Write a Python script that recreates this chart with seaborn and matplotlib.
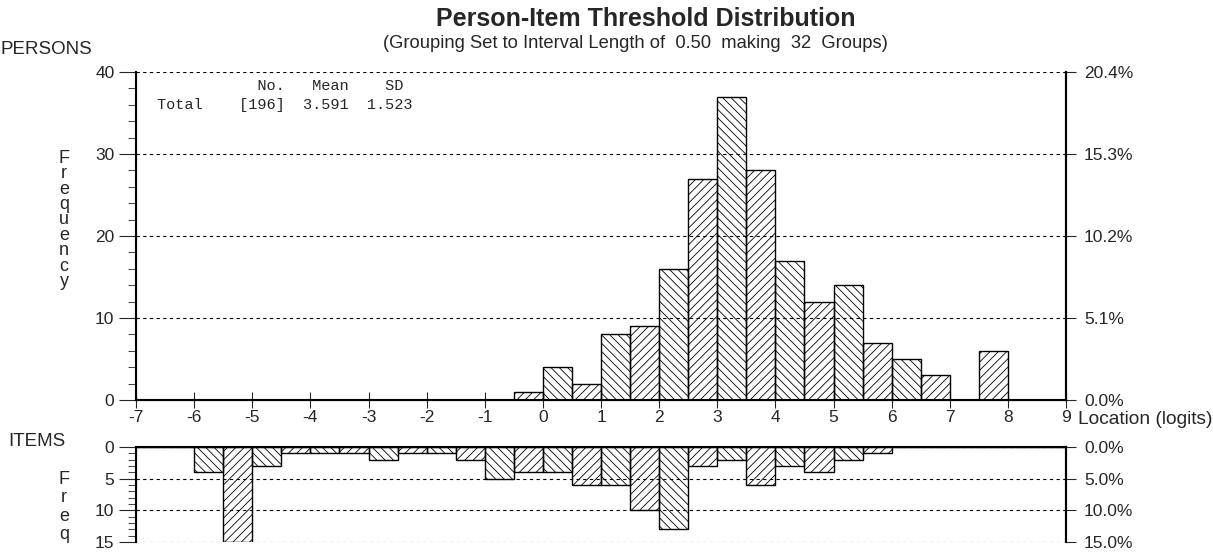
import numpy as np
import pandas as pd
import matplotlib.pyplot as plt
import seaborn as sns
from matplotlib.ticker import MultipleLocator

# person locations (bin centres, 0.5 logit groups) and counts
person_loc = [-0.25, 0.25, 0.75, 1.25, 1.75, 2.25, 2.75, 3.25, 3.75, 4.25,
              4.75, 5.25, 5.75, 6.25, 6.75, 7.75]
person_n = [1, 4, 2, 8, 9, 16, 27, 37, 28, 17, 12, 14, 7, 5, 3, 6]

# item threshold locations and counts
item_loc = [-5.75, -5.25, -4.75, -4.25, -3.75, -3.25, -2.75, -2.25, -1.75,
            -1.25, -0.75, -0.25, 0.25, 0.75, 1.25, 1.75, 2.25, 2.75, 3.25,
            3.75, 4.25, 4.75, 5.25, 5.75]
item_n = [4, 15, 3, 1, 1, 1, 2, 1, 1, 2, 5, 4, 4, 6, 6, 10, 13, 3, 2, 6,
          3, 4, 2, 1]

x_ticks = list(range(-7, 10))
person_yticks = [0, 10, 20, 30, 40]
item_yticks = [0, 5, 10, 15]
stats_head = "           No.   Mean    SD"
stats_row = "Total    [196]  3.591  1.523"

persons = pd.DataFrame({"loc": person_loc, "n": person_n})
items = pd.DataFrame({"loc": item_loc, "n": item_n})

sns.set_style("ticks", {"axes.edgecolor": "black"})
plt.rcParams['font.family'] = ['Liberation Sans', 'DejaVu Sans']
plt.rcParams['hatch.linewidth'] = 0.6

W, H = 1213, 554
fig = plt.figure(figsize=(W / 100, H / 100), dpi=100)
ax = fig.add_axes([136 / W, 154 / H, 930 / W, 328 / H])
axb = fig.add_axes([136 / W, 12 / H, 930 / W, 95 / H])


def style_bars(a):
    for p in a.patches:
        idx = int(round((p.get_x() + 7) / 0.5))
        p.set_hatch('\\\\\\\\' if idx % 2 == 0 else '////')
        p.set_facecolor('none')
        p.set_edgecolor('black')
        p.set_linewidth(1.0)
        p.set_alpha(1)


sns.histplot(data=persons, x="loc", weights="n", binwidth=0.5,
             binrange=(-7, 9), ax=ax)
style_bars(ax)
sns.histplot(data=items, x="loc", weights="n", binwidth=0.5,
             binrange=(-7, 9), ax=axb)
style_bars(axb)

grid_kw = dict(color='black', linestyle=(0, (3, 3)), linewidth=0.8)

# persons panel
ax.set_xlim(-7, 9)
ax.set_ylim(0, 40)
ax.set_xticks(x_ticks)
ax.set_xticklabels([str(v) for v in x_ticks])
ax.set_yticks(person_yticks)
ax.yaxis.set_minor_locator(MultipleLocator(2))
ax.set_xlabel("")
ax.set_ylabel("")
ax.yaxis.grid(True, **grid_kw)
ax.spines['top'].set_visible(False)
for s in ['left', 'bottom', 'right']:
    ax.spines[s].set_linewidth(1.5)
ax.tick_params(axis='x', direction='inout', length=11, labelsize=12.5, pad=2)
ax.tick_params(axis='y', which='major', length=12, labelsize=12.5)
ax.tick_params(axis='y', which='minor', length=6)

axr = ax.twinx()
axr.set_ylim(0, 40)
axr.set_yticks(person_yticks)
axr.set_yticklabels([f"{v / sum(person_n) * 100:.1f}%" for v in person_yticks])
axr.spines['top'].set_visible(False)
axr.spines['right'].set_linewidth(1.5)
axr.tick_params(axis='y', length=7, labelsize=12.5, pad=6)

# items panel
axb.set_xlim(-7, 9)
axb.set_ylim(15, 0)
axb.set_xticks([])
axb.set_yticks(item_yticks)
axb.yaxis.set_minor_locator(MultipleLocator(1))
axb.set_xlabel("")
axb.set_ylabel("")
axb.yaxis.grid(True, **grid_kw)
axb.spines['bottom'].set_visible(False)
for s in ['left', 'top', 'right']:
    axb.spines[s].set_linewidth(1.5)
axb.tick_params(axis='y', which='major', length=12, labelsize=12.5)
axb.tick_params(axis='y', which='minor', length=6)

axbr = axb.twinx()
axbr.set_ylim(15, 0)
axbr.set_yticks(item_yticks)
axbr.set_yticklabels([f"{v / sum(item_n) * 100:.1f}%" for v in item_yticks])
axbr.spines['bottom'].set_visible(False)
axbr.spines['right'].set_linewidth(1.5)
axbr.tick_params(axis='y', length=7, labelsize=12.5, pad=6)

# texts
fig.text(646 / W, 1 - 19 / H, "Person-Item Threshold Distribution",
         ha='center', va='center', fontsize=18, fontweight='bold')
fig.text(635 / W, 1 - 44 / H,
         "(Grouping Set to Interval Length of  0.50  making  32  Groups)",
         ha='center', va='center', fontsize=13.2)
fig.text(0, 1 - 50 / H, "PERSONS", ha='left', va='center', fontsize=13.5)
fig.text(8 / W, 1 - 441 / H, "ITEMS", ha='left', va='center', fontsize=13.5)
fig.text(64 / W, 1 - 220 / H, "\n".join("Frequency"), ha='center',
         va='center', fontsize=13, linespacing=0.88)
fig.text(64 / W, 1 - 507 / H, "\n".join("Freq"), ha='center',
         va='center', fontsize=13, linespacing=1.12)
fig.text(1078 / W, 1 - 419 / H, "Location (logits)", ha='left',
         va='center', fontsize=13.8)
fig.text(157 / W, 1 - 86 / H, stats_head, ha='left', va='center',
         fontsize=11, family='Liberation Mono')
fig.text(157 / W, 1 - 105 / H, stats_row, ha='left', va='center',
         fontsize=11, family='Liberation Mono')

fig.savefig("out.png", dpi=100)
